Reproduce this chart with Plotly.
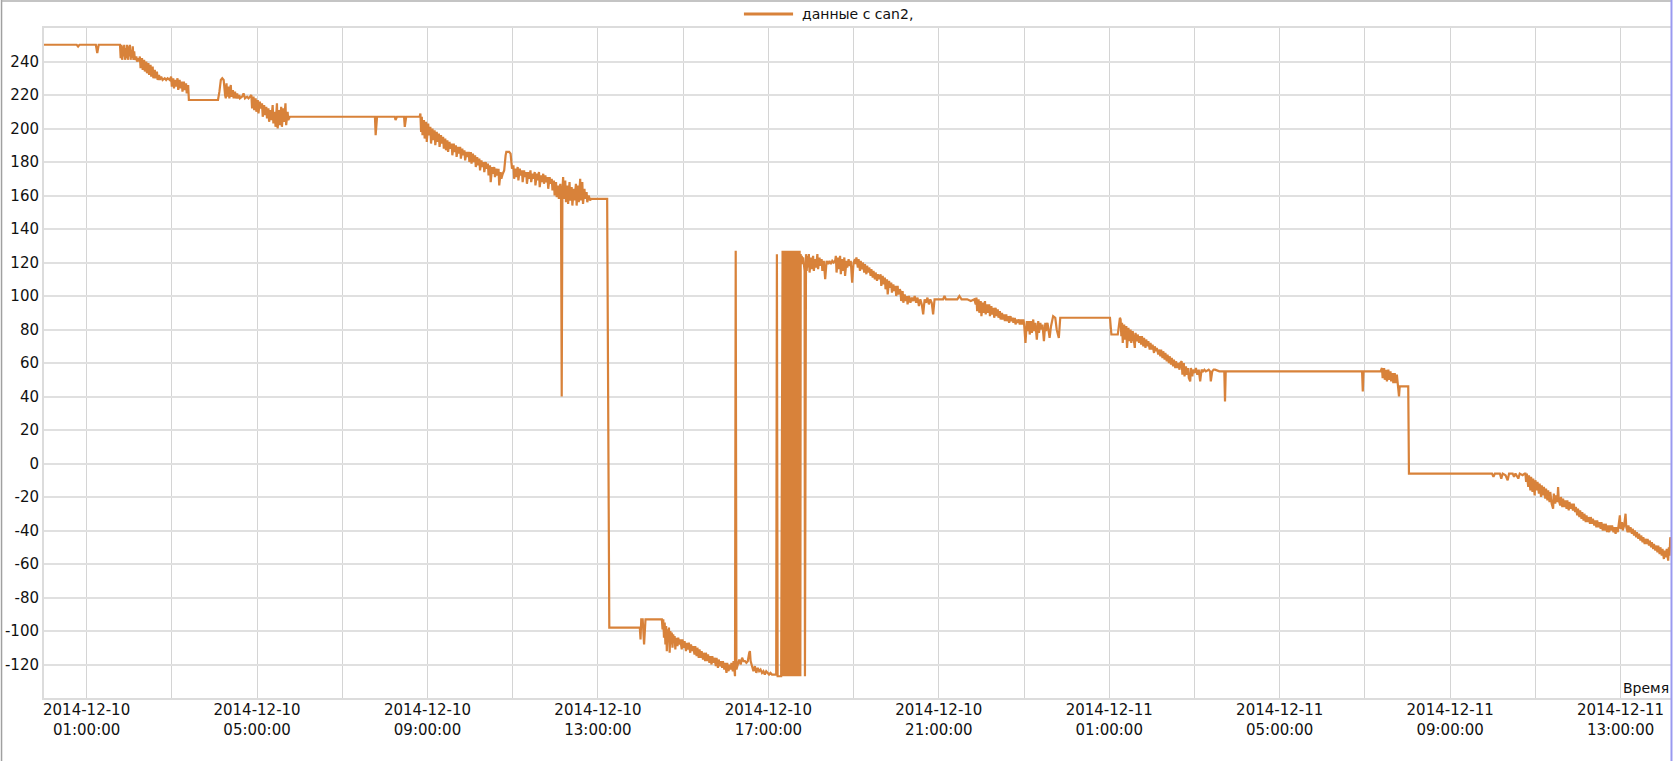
import pandas as pd
import plotly.graph_objects as go

START = "2014-12-10 00:00:00"
SERIES_NAME = "данные с can2,"

# [minutes since 2014-12-10 00:00, value]
seg_morning = [
    [0, 250], [46, 250], [48, 249], [50, 250], [73, 250], [75, 245], [77, 250], [105, 250],
    [107, 250], [108, 242], [109, 250], [110, 241], [111, 249], [112, 243], [113, 250], [114, 241],
    [115, 248], [116, 242], [117, 250], [118, 241], [119, 249], [120, 243], [121, 250], [122, 241],
    [123, 247], [124, 242], [125, 249], [126, 241], [127, 246], [128, 241], [130, 243], [131, 240],
    [133, 242], [134, 240],
    [135, 243], [136, 236], [138, 242], [139, 235], [141, 241], [142, 234], [144, 240], [145, 233],
    [147, 239], [148, 232], [150, 238], [151, 231], [153, 237], [154, 230], [156, 235], [157, 230],
    [159, 234], [160, 229], [162, 232], [163, 229], [165, 231], [167, 229], [170, 230], [172, 229],
    [174, 230], [177, 229],
    [179, 231], [180, 225], [182, 230], [183, 224], [185, 229], [186, 225], [188, 230], [189, 223],
    [191, 229], [192, 224], [194, 228], [195, 222], [197, 228], [198, 223], [200, 227], [201, 221],
    [203, 226], [204, 217],
    [245, 217], [247, 222], [249, 229], [251, 230], [253, 229], [255, 220], [256, 218],
    [257, 227], [258, 219], [260, 225], [261, 218], [263, 226], [264, 219], [266, 223], [267, 218],
    [269, 222], [270, 218], [272, 221], [273, 218], [275, 220], [276, 218], [279, 219], [281, 221],
    [283, 218], [286, 219], [288, 218], [290, 219],
    [292, 220], [293, 212], [295, 219], [296, 211], [298, 218], [299, 210], [301, 217], [302, 209],
    [304, 216], [305, 212], [307, 215], [308, 207], [310, 214], [311, 208], [313, 213], [314, 206],
    [316, 212], [317, 204], [319, 211], [320, 205], [322, 214], [323, 203], [325, 210], [326, 201],
    [328, 215], [329, 200], [331, 211], [332, 202], [334, 213], [335, 201], [337, 212], [338, 204],
    [340, 215], [341, 202], [343, 210], [344, 205], [346, 207],
    [466, 207], [467, 196], [469, 207], [494, 207], [495, 205], [497, 207], [507, 207], [508, 201],
    [510, 207], [529, 207],
]

seg_noon = [
    [530, 209], [531, 198], [532, 207], [533, 196], [535, 205], [536, 194], [538, 204], [539, 192],
    [541, 203], [542, 196], [544, 201], [545, 191], [547, 200], [548, 193], [550, 199], [551, 190],
    [553, 198], [554, 192], [556, 197], [557, 189], [559, 196], [560, 191], [562, 195], [563, 188],
    [565, 194],
    [566, 187], [568, 193], [569, 186], [571, 192], [572, 188], [574, 191], [575, 184], [577, 191],
    [578, 186], [580, 190], [581, 183], [583, 189], [584, 185], [586, 189], [587, 182], [589, 188],
    [590, 184], [592, 187], [593, 181], [595, 186], [596, 183], [598, 186], [599, 180],
    [601, 186], [602, 179], [604, 185], [605, 180], [607, 184], [608, 177], [610, 183], [611, 178],
    [613, 182], [614, 175], [616, 181], [617, 177], [619, 180], [620, 174], [622, 180], [623, 176],
    [625, 179], [626, 172], [628, 178], [629, 168], [631, 177], [632, 173], [634, 177], [635, 171],
    [637, 176], [638, 172], [640, 176], [641, 166], [643, 174], [644, 170], [646, 173],
    [648, 175], [650, 184], [651, 186], [655, 186], [657, 185], [659, 176],
    [661, 178], [662, 170], [664, 176], [665, 171], [667, 177], [668, 169], [670, 176], [671, 172],
    [673, 175], [674, 168], [676, 175], [677, 171], [679, 174], [680, 167], [682, 174], [683, 170],
    [685, 175], [686, 168], [688, 173], [689, 170], [691, 174], [692, 166], [694, 173], [695, 169],
    [697, 174], [698, 165], [700, 172], [701, 168], [703, 173], [704, 167], [706, 172], [707, 168],
    [709, 171], [710, 164], [712, 171], [713, 167], [715, 170], [716, 163], [718, 169],
    [719, 160], [721, 168], [722, 159], [724, 166], [725, 158], [727, 167], [728, 160], [729, 40],
    [730, 163], [731, 171], [732, 158], [734, 169], [735, 156], [737, 166], [738, 155], [740, 168],
    [741, 157], [743, 165], [744, 154], [746, 164], [747, 157], [749, 167], [750, 154], [752, 166],
    [753, 156], [755, 170], [756, 157], [758, 168], [759, 155], [761, 164], [762, 158], [764, 162],
    [765, 156], [767, 160], [769, 157], [770, 158], [772, 158], [793, 158],
]

seg_low = [
    [796, -98], [839, -98], [840, -105], [841, -93], [843, -93], [845, -108], [847, -93], [849, -93],
    [870, -93],
    [871, -99], [872, -93], [873, -104], [874, -95], [875, -108], [876, -97], [877, -112], [878, -99],
    [879, -106], [880, -98], [881, -113], [882, -100], [883, -108], [884, -101], [885, -110],
    [886, -102], [887, -107], [888, -103], [889, -111], [890, -104], [892, -109], [893, -104],
    [895, -108], [896, -105],
    [898, -111], [899, -105], [901, -110], [902, -106], [904, -112], [905, -107], [907, -111],
    [908, -107], [910, -113], [911, -108], [913, -112], [914, -109], [916, -114], [917, -109],
    [919, -115], [920, -110], [922, -116], [923, -111], [925, -116], [926, -112], [928, -117],
    [929, -113], [931, -118], [932, -113], [934, -118], [935, -114], [937, -119], [938, -115],
    [940, -120], [941, -115], [943, -119], [944, -116], [946, -121], [947, -116], [949, -122],
    [950, -117], [952, -121], [953, -118], [955, -122], [956, -118], [958, -123], [959, -119],
    [961, -125], [962, -119], [964, -124], [965, -120], [967, -123], [968, -119], [970, -124],
    [971, -118], [973, -127], [974, 127], [975, -123], [977, -119], [979, -117], [981, -120],
    [983, -116], [985, -118], [987, -118], [989, -119], [991, -118], [993, -113], [994, -112],
    [995, -118], [997, -122],
    [999, -124], [1001, -121], [1003, -125], [1005, -122], [1007, -124], [1009, -123], [1011, -125],
    [1013, -124], [1015, -126], [1017, -124], [1019, -125], [1021, -126], [1023, -125], [1025, -126],
    [1028, -126], [1031, -126], [1032, 125], [1033, -127], [1038, -127],
]

seg_burst = [
    [1040, 127], [1041, -127], [1042, 127], [1043, -127], [1044, 127], [1045, -127], [1046, 127],
    [1047, -127], [1048, 127], [1049, -127], [1050, 127], [1051, -127], [1052, 127], [1053, -127],
    [1054, 127], [1055, -127], [1056, 127], [1057, -127], [1058, 127], [1059, -127], [1060, 127],
    [1061, -127], [1062, 127], [1063, -127], [1064, 127], [1065, -127],
    [1065.5, 125], [1066, 120], [1067, 124], [1068, 119], [1069, 123], [1070, 118], [1071, 115],
    [1071.5, -127], [1072, 121],
]

seg_evening = [
    [1073, 125], [1074, 115], [1075, 124], [1076, 117], [1077, 125], [1078, 114], [1080, 123],
    [1081, 116], [1083, 124], [1084, 115], [1086, 122], [1087, 117], [1089, 125], [1090, 116],
    [1092, 123], [1093, 118], [1095, 122], [1096, 115], [1098, 121], [1100, 110], [1102, 121],
    [1104, 119], [1106, 121], [1108, 119], [1110, 121], [1112, 120], [1114, 121],
    [1115, 124], [1116, 114], [1118, 123], [1119, 116], [1121, 124], [1122, 113], [1124, 122],
    [1125, 115], [1127, 123], [1128, 112], [1130, 121], [1131, 117], [1133, 122], [1134, 118],
    [1136, 121], [1138, 108], [1140, 120], [1142, 122],
    [1143, 119], [1144, 123], [1146, 117], [1147, 122], [1149, 115], [1150, 121], [1152, 116],
    [1153, 120], [1155, 114], [1156, 119], [1158, 113], [1159, 118], [1161, 114], [1162, 117],
    [1164, 112], [1165, 116], [1167, 111], [1168, 115], [1170, 110], [1171, 114], [1173, 109],
    [1174, 113], [1176, 110],
    [1178, 113], [1179, 106], [1181, 112], [1182, 107], [1184, 111], [1185, 104], [1187, 110],
    [1188, 101], [1190, 109], [1191, 105], [1193, 108], [1194, 102], [1196, 107], [1197, 103],
    [1199, 106], [1200, 100], [1202, 106], [1203, 101], [1205, 104],
    [1206, 103], [1207, 97], [1209, 103], [1210, 96], [1212, 101], [1213, 97], [1215, 100],
    [1216, 95], [1218, 100], [1220, 96], [1222, 99], [1224, 97], [1226, 100], [1228, 96],
    [1230, 99], [1232, 94], [1234, 98], [1236, 95], [1238, 89], [1240, 98], [1242, 96], [1244, 99],
    [1246, 95], [1248, 98], [1250, 96], [1252, 89], [1254, 98],
    [1260, 98], [1266, 98], [1268, 100], [1270, 98], [1286, 98], [1289, 100], [1292, 98],
    [1300, 98], [1305, 97], [1310, 98],
    [1312, 95], [1313, 99], [1314, 91], [1316, 98], [1317, 90], [1319, 97], [1320, 88], [1322, 96],
    [1323, 90], [1325, 97], [1326, 89], [1328, 95], [1329, 90], [1331, 95], [1332, 88], [1334, 94],
    [1335, 89], [1337, 93], [1338, 87], [1340, 93], [1341, 88], [1343, 92], [1344, 87], [1346, 91],
    [1347, 86], [1349, 90], [1350, 86], [1352, 89], [1353, 85], [1355, 89], [1356, 85], [1358, 88],
    [1359, 84], [1361, 88], [1362, 85], [1364, 87], [1365, 84], [1367, 87], [1368, 83], [1370, 86],
    [1371, 84], [1373, 86], [1374, 83], [1376, 86], [1377, 83], [1379, 86], [1380, 84],
    [1382, 72], [1384, 85], [1385, 79], [1387, 85], [1388, 77], [1390, 85], [1391, 78], [1393, 86],
    [1394, 79], [1396, 84], [1398, 74], [1400, 85], [1401, 78], [1403, 84], [1404, 80], [1406, 83],
    [1408, 73], [1410, 84], [1411, 79], [1413, 84], [1414, 80], [1416, 75],
    [1418, 82], [1421, 88], [1424, 87], [1426, 80], [1429, 75], [1431, 87], [1501, 87], [1502, 80],
    [1503, 77], [1512, 77], [1514, 82], [1515, 87],
]

seg_night = [
    [1516, 86], [1517, 76], [1518, 84], [1519, 72], [1521, 83], [1522, 74], [1524, 82], [1525, 69],
    [1527, 81], [1528, 73], [1530, 80], [1531, 72], [1533, 79], [1534, 74], [1536, 69], [1537, 78],
    [1539, 73], [1540, 77], [1542, 72], [1543, 76],
    [1545, 71], [1546, 76], [1548, 70], [1549, 75], [1551, 69], [1552, 74], [1554, 70], [1555, 73],
    [1557, 68], [1558, 72], [1560, 68], [1561, 71], [1563, 66], [1564, 70], [1566, 67], [1567, 69],
    [1569, 65], [1570, 68],
    [1572, 64], [1573, 68], [1575, 63], [1576, 67], [1578, 62], [1579, 66], [1581, 61], [1582, 65],
    [1584, 60], [1585, 64], [1587, 59], [1588, 63], [1590, 58], [1591, 62], [1593, 57], [1594, 61],
    [1596, 57], [1597, 60], [1599, 56], [1600, 60],
    [1602, 61], [1603, 53], [1605, 60], [1606, 52], [1608, 58], [1609, 53], [1611, 57], [1612, 51],
    [1614, 49], [1615, 57], [1617, 52], [1618, 56], [1620, 54], [1622, 57], [1624, 53], [1626, 56],
    [1628, 49], [1630, 56], [1632, 55], [1634, 56], [1636, 55], [1640, 56], [1642, 55], [1643, 49],
    [1645, 55], [1647, 56], [1649, 56],
    [1655, 55], [1662, 55], [1663, 37], [1664, 55], [1856, 55], [1857, 43], [1858, 55], [1882, 55],
    [1884, 57], [1885, 51], [1887, 57], [1888, 50], [1890, 56], [1891, 49], [1893, 56], [1894, 50],
    [1896, 55], [1897, 49], [1899, 54], [1900, 48], [1902, 54], [1903, 48], [1905, 53], [1906, 48],
    [1908, 40], [1909, 46], [1921, 46], [1922, -6],
]

seg_morning2 = [
    [2039, -6], [2041, -8], [2043, -6], [2050, -6], [2052, -9], [2054, -6], [2058, -7], [2061, -10],
    [2063, -6], [2068, -6], [2070, -8], [2072, -6], [2076, -9], [2078, -6], [2082, -7], [2085, -6],
    [2086, -6], [2087, -11], [2088, -6], [2090, -14], [2091, -7], [2093, -16], [2094, -8],
    [2096, -17], [2097, -9], [2099, -19], [2100, -10], [2102, -16], [2103, -11], [2105, -18],
    [2106, -12], [2108, -20], [2109, -13], [2111, -19], [2112, -14],
    [2114, -21], [2115, -15], [2117, -22], [2118, -16], [2120, -23], [2121, -17], [2123, -24],
    [2125, -27], [2126, -18], [2128, -24], [2129, -19], [2131, -23], [2132, -14], [2133, -22],
    [2135, -25],
    [2136, -20], [2138, -26], [2139, -21], [2141, -26], [2142, -22], [2144, -27], [2145, -22],
    [2147, -28], [2148, -23], [2150, -27], [2151, -24], [2153, -28], [2154, -24], [2156, -29],
    [2157, -26], [2159, -31], [2160, -27], [2162, -32], [2163, -28], [2165, -33], [2166, -29],
    [2168, -34], [2169, -30], [2171, -35], [2172, -31], [2174, -35], [2175, -32], [2177, -36],
    [2178, -32], [2180, -36], [2181, -33], [2183, -37], [2184, -34], [2186, -38], [2187, -34],
    [2189, -38], [2190, -35],
    [2192, -39], [2193, -35], [2195, -40], [2196, -36], [2198, -40], [2199, -36], [2201, -41],
    [2202, -37], [2204, -41], [2205, -37], [2207, -40], [2208, -37], [2210, -41], [2211, -38],
    [2213, -42], [2214, -38], [2216, -41], [2217, -38],
    [2219, -31], [2220, -39], [2222, -35], [2223, -40], [2225, -37], [2227, -30], [2228, -38],
    [2230, -41], [2231, -37], [2233, -41], [2234, -38], [2236, -42],
    [2237, -39], [2239, -43], [2240, -40], [2242, -44], [2243, -41], [2245, -45], [2246, -42],
    [2248, -46], [2249, -43], [2251, -47], [2252, -44], [2254, -48], [2255, -45], [2257, -48],
    [2258, -45], [2260, -49], [2261, -46], [2263, -50], [2264, -47], [2266, -51], [2267, -48],
    [2269, -52], [2270, -49], [2272, -53], [2273, -49], [2275, -54], [2276, -50], [2278, -55],
    [2279, -51], [2281, -57], [2282, -52], [2284, -56], [2285, -51], [2287, -58], [2288, -50],
    [2289, -55], [2290, -44], [2291, -46],
]

y_tick_values = [-120, -100, -80, -60, -40, -20, 0, 20, 40, 60, 80, 100, 120, 140, 160, 180, 200, 220, 240]
x_tick_times = [
    "2014-12-10 01:00", "2014-12-10 03:00", "2014-12-10 05:00", "2014-12-10 07:00",
    "2014-12-10 09:00", "2014-12-10 11:00", "2014-12-10 13:00", "2014-12-10 15:00",
    "2014-12-10 17:00", "2014-12-10 19:00", "2014-12-10 21:00", "2014-12-10 23:00",
    "2014-12-11 01:00", "2014-12-11 03:00", "2014-12-11 05:00", "2014-12-11 07:00",
    "2014-12-11 09:00", "2014-12-11 11:00", "2014-12-11 13:00",
]
x_tick_labels = [
    "2014-12-10<br>01:00:00", "", "2014-12-10<br>05:00:00", "",
    "2014-12-10<br>09:00:00", "", "2014-12-10<br>13:00:00", "",
    "2014-12-10<br>17:00:00", "", "2014-12-10<br>21:00:00", "",
    "2014-12-11<br>01:00:00", "", "2014-12-11<br>05:00:00", "",
    "2014-12-11<br>09:00:00", "", "2014-12-11<br>13:00:00",
]
x_range = ["2014-12-10 00:00:00", "2014-12-11 14:11:00"]
y_range = [-140, 260]

samples = seg_morning + seg_noon + seg_low + seg_burst + seg_evening + seg_night + seg_morning2
start = pd.Timestamp(START)
times = [start + pd.Timedelta(minutes=m) for m, _ in samples]
values = [v for _, v in samples]

FONT = "DejaVu Sans"
TEXT = "#111111"
LINE_COLOR = "#d8823a"
fig = go.Figure()
fig.add_trace(go.Scatter(
    x=times, y=values, mode="lines", name=SERIES_NAME,
    line=dict(color=LINE_COLOR, width=2.2), showlegend=False,
))

# legend drawn as a key line + label above the plot area
fig.add_shape(type="line", xref="paper", yref="paper", x0=0.4302, x1=0.4604, y0=1.0209, y1=1.0209,
              line=dict(color=LINE_COLOR, width=3))
fig.add_annotation(text=SERIES_NAME, xref="paper", yref="paper", x=0.4647, y=1.0209,
                   xanchor="left", yanchor="middle", showarrow=False,
                   font=dict(family=FONT, size=14, color=TEXT))

fig.update_layout(
    width=1673, height=761,
    margin=dict(l=44, r=2, t=28, b=63),
    paper_bgcolor="white", plot_bgcolor="white",
    font=dict(family=FONT, size=14, color=TEXT),
    showlegend=False,
    xaxis=dict(
        type="date", range=x_range, tickmode="array", tickvals=x_tick_times, ticktext=x_tick_labels,
        showgrid=True, gridcolor="#d4d4d4", gridwidth=1,
        showline=True, linecolor="#dcdcdc", linewidth=2, mirror=True,
        ticks="", zeroline=False, tickfont=dict(family=FONT, size=15, color=TEXT),
        tickangle=0, ticklabelstandoff=-3,
    ),
    yaxis=dict(
        range=y_range, tickmode="array", tickvals=y_tick_values,
        ticktext=[str(v) for v in y_tick_values],
        showgrid=True, gridcolor="#e0e0e0", gridwidth=2,
        showline=True, linecolor="#dcdcdc", linewidth=2,
        ticks="", zeroline=False, tickfont=dict(family=FONT, size=15, color=TEXT),
    ),
)
fig.add_annotation(text="Время", xref="paper", yref="paper", x=1.0, y=0.0,
                   xanchor="right", yanchor="bottom", showarrow=False,
                   font=dict(family=FONT, size=14, color=TEXT))
fig.add_shape(type="line", xref="paper", yref="paper", x0=-0.0261, x1=-0.0261, y0=-0.1, y1=1.0418,
              line=dict(color="#a0a0a0", width=1.5))
fig.add_shape(type="line", xref="paper", yref="paper", x0=-0.0261, x1=1.0, y0=1.0403, y1=1.0403,
              line=dict(color="#b0b0b0", width=1.5))
fig.add_shape(type="line", xref="paper", yref="paper", x0=1.0003, x1=1.0003, y0=-0.1, y1=1.0418,
              line=dict(color="#9a9af0", width=2))

fig.write_html(
    "out.html",
    config={"displayModeBar": False},
    post_script="document.body.style.margin='0';document.body.style.overflow='hidden';",
)
